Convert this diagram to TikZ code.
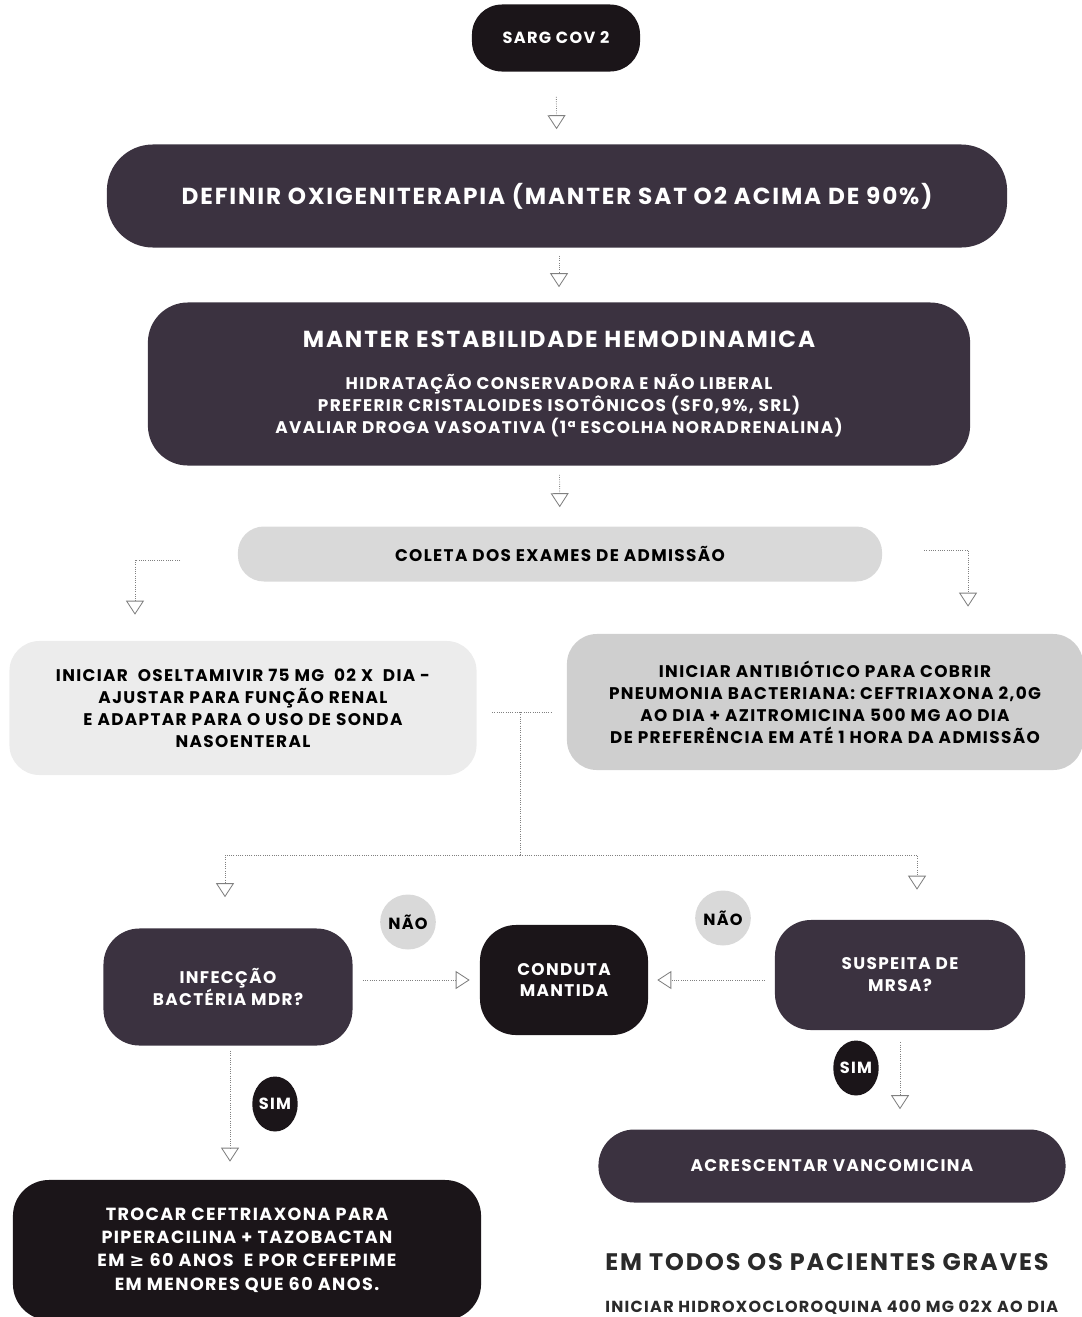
\documentclass[tikz,border=0pt]{standalone}
\usepackage{fontspec}
\setmainfont{Poppins}[LetterSpace=8]
\newfontfamily\simbolo{DejaVu Sans}
\usetikzlibrary{arrows.meta,shapes.geometric}
\definecolor{quasepreto}{HTML}{1B1519}
\definecolor{roxoescuro}{HTML}{3B3240}
\definecolor{cinzaclaro}{HTML}{D9D9D9}
\definecolor{cinzamedio}{HTML}{CFCFCF}
\definecolor{cinzafraco}{HTML}{ECECEC}
\definecolor{cinzatexto}{HTML}{2A2A2A}

\begin{document}
\begin{tikzpicture}[x=0.025cm,y=-0.025cm]
\useasboundingbox (0,0) rectangle (1082,1317);
\tikzstyle{caixa}=[shape=rectangle, align=center, inner sep=0pt, font=\bfseries\fontsize{12}{15.6}\selectfont];
\tikzstyle{escura}=[caixa, fill=roxoescuro, text=white];
\tikzstyle{preta}=[caixa, fill=quasepreto, text=white];
\tikzstyle{clara}=[caixa, text=black];
\tikzstyle{bolha}=[shape=ellipse, inner sep=0pt, minimum width=1.05cm, minimum height=1.375cm, font=\bfseries\fontsize{11.5}{13}\selectfont];
\tikzstyle{seta}=[densely dotted, gray, line width=0.6pt, -{Triangle[open, length=0.35cm, width=0.45cm]}];
\tikzstyle{linha}=[densely dotted, gray, line width=0.6pt];

% caixas de cima
\draw (556,38) node[preta, minimum width=4.2cm, minimum height=1.675cm, rounded corners=0.75cm,
  font=\bfseries\fontsize{11.5}{12}\selectfont] (sarg) {SARG COV 2};
\draw (557,196) node[escura, minimum width=22.5cm, minimum height=2.575cm, rounded corners=1.15cm,
  font=\bfseries\fontsize{16.5}{20}\selectfont] (oxig) {DEFINIR OXIGENITERAPIA (MANTER SAT O2 ACIMA DE 90\%)};
\draw (559,384) node[escura, minimum width=20.55cm, minimum height=4.075cm, rounded corners=1cm] (hemo)
  {{\fontsize{16.5}{20}\selectfont MANTER ESTABILIDADE HEMODINAMICA}\\[0.5cm]
   HIDRATAÇÃO CONSERVADORA E NÃO LIBERAL\\
   PREFERIR CRISTALOIDES ISOTÔNICOS (SF0,9\%, SRL)\\
   AVALIAR DROGA VASOATIVA (1ª ESCOLHA NORADRENALINA)};
\draw (560,554) node[clara, fill=cinzaclaro, minimum width=16.1cm, minimum height=1.375cm, rounded corners=0.65cm] (coleta)
  {COLETA DOS EXAMES DE ADMISSÃO};

% tratamentos iniciais
\draw (243,708) node[clara, fill=cinzafraco, minimum width=11.675cm, minimum height=3.35cm, rounded corners=0.75cm] (osel)
  {INICIAR \ OSELTAMIVIR 75 MG \ 02 X \ DIA -\\
   AJUSTAR PARA FUNÇÃO RENAL\\
   E ADAPTAR PARA O USO DE SONDA\\
   NASOENTERAL};
\draw (825,702) node[clara, fill=cinzamedio, minimum width=12.9cm, minimum height=3.4cm, rounded corners=0.75cm] (antib)
  {INICIAR ANTIBIÓTICO PARA COBRIR\\
   PNEUMONIA BACTERIANA: CEFTRIAXONA 2,0G\\
   AO DIA + AZITROMICINA 500 MG AO DIA\\
   DE PREFERÊNCIA EM ATÉ 1 HORA DA ADMISSÃO};

% decisoes
\draw (228,987) node[escura, minimum width=6.225cm, minimum height=2.925cm, rounded corners=0.9cm] (mdr)
  {INFECÇÃO\\BACTÉRIA MDR?};
\draw (564,980) node[preta, minimum width=4.2cm, minimum height=2.75cm, rounded corners=0.9cm] (conduta)
  {CONDUTA\\MANTIDA};
\draw (900,975) node[escura, minimum width=6.25cm, minimum height=2.75cm, rounded corners=0.9cm] (mrsa)
  {SUSPEITA DE\\MRSA?};
\draw (408,922) node[bolha, fill=cinzaclaro] (nao1) {NÃO};
\draw (723,918) node[bolha, fill=cinzaclaro] (nao2) {NÃO};
\draw (856,1068) node[bolha, fill=quasepreto, text=white] (sim1) {SIM};
\draw (275,1104) node[bolha, fill=quasepreto, text=white] (sim2) {SIM};

% condutas finais
\draw (832,1166) node[escura, minimum width=11.675cm, minimum height=1.825cm, rounded corners=0.9cm] (vanco)
  {ACRESCENTAR VANCOMICINA};
\draw (247,1250) node[preta, minimum width=11.7cm, minimum height=3.5cm, rounded corners=0.9cm,
  font=\bfseries\fontsize{12.5}{16.5}\selectfont] (troca)
  {TROCAR CEFTRIAXONA PARA\\
   PIPERACILINA + TAZOBACTAN\\
   EM {\simbolo ≥} 60 ANOS \ E POR CEFEPIME\\
   EM MENORES QUE 60 ANOS.};
\draw (605,1262) node[anchor=west, inner sep=0pt, text=cinzatexto, font=\bfseries\fontsize{17}{20}\selectfont] (graves)
  {EM TODOS OS PACIENTES GRAVES};
\draw (605,1307) node[anchor=west, inner sep=0pt, text=cinzatexto, font=\bfseries\fontsize{11.4}{14}\selectfont] (hidroxo)
  {INICIAR HIDROXOCLOROQUINA 400 MG 02X AO DIA};

% setas
\draw[seta, shorten <=0.625cm, shorten >=0.375cm] (sarg) -- (oxig);
\draw[seta, shorten <=0.2cm, shorten >=0.375cm] (oxig.south -| hemo) -- (hemo);
\draw[seta, shorten <=0.225cm, shorten >=0.475cm] (hemo) -- (coleta);
\coordinate (ce) at (180,560);
\coordinate (cd) at (924,550);
\draw[seta, shorten >=0.65cm] (ce) -| ([xshift=-2.7cm]osel.north);
\draw[seta, shorten >=0.675cm] (cd) -| ([xshift=3.575cm]antib.north);
\coordinate (t1) at (492,712);
\coordinate (t2) at (551,712);
\coordinate (tm) at (520,712);
\coordinate (tb) at (520,855);
\draw[linha] (t1) -- (t2);
\draw[linha] (tm) -- (tb);
\draw[seta, shorten >=0.775cm] (tb) -| ([xshift=-0.075cm]mdr.north);
\draw[seta, shorten >=0.75cm] (tb) -| ([xshift=0.425cm]mrsa.north);
\draw[seta, shorten <=0.25cm, shorten >=0.25cm] (mdr.east |- conduta) -- (conduta.west);
\draw[seta, shorten <=0.25cm, shorten >=0.225cm] (mrsa.west |- conduta) -- (conduta.east);
\draw[seta, shorten <=0.3cm, shorten >=0.5cm] (mrsa.south) -- (mrsa.south |- vanco.north);
\draw[seta, shorten <=0.125cm, shorten >=0.45cm] ([xshift=0.05cm]mdr.south) -- ([xshift=0.05cm]mdr.south |- troca.north);
\end{tikzpicture}
\end{document}
